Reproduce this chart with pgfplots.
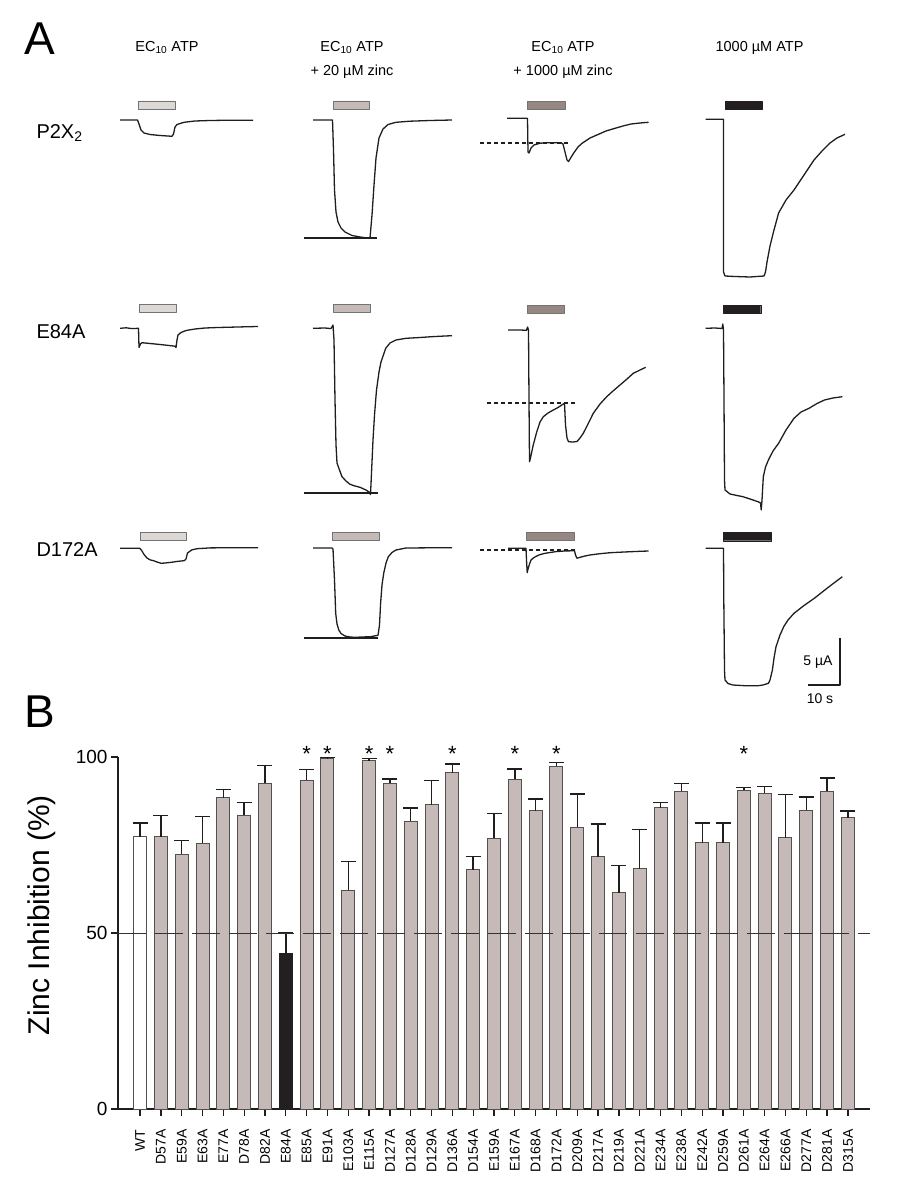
\documentclass[border=0pt]{standalone}
\usepackage{pgfplots}
\pgfplotsset{compat=1.18}
\usepackage{pgfplotstable}
\usepackage{fontspec}
\setmainfont{Liberation Sans}

\definecolor{barfill}{RGB}{197,186,184}
\definecolor{baredge}{RGB}{85,80,80}
\definecolor{stimA}{RGB}{220,216,214}
\definecolor{stimB}{RGB}{197,186,184}
\definecolor{stimC}{RGB}{150,135,131}
\definecolor{stimD}{RGB}{35,31,32}
\definecolor{ink}{RGB}{30,30,30}

\newcommand{\fs}[1]{\fontsize{#1}{#1}\selectfont}
% stimulus bar: colour, x1, y1, x2, y2 (page pixels)
\newcommand{\stim}[5]{\addplot[fill=#1, draw=black!55, line width=0.8pt] coordinates {(#2,#3) (#4,#3) (#4,#5) (#2,#5) (#2,#3)};}

% zinc inhibition (%), mean and upper SEM
\pgfplotstableread{
x y err
0 77.4 3.8
}\wt
\pgfplotstableread{
x y err
7 44.3 5.7
}\ebf
\pgfplotstableread{
x y err
1 77.4 5.9
2 72.4 3.8
3 75.5 7.6
4 88.4 2.4
5 83.5 3.5
6 92.6 4.9
8 93.4 3.0
9 99.5 0.4
10 62.1 8.2
11 98.9 0.6
12 92.5 1.2
13 81.7 3.8
14 86.4 7.0
15 95.5 2.5
16 67.9 3.8
17 76.9 7.1
18 93.7 2.9
19 84.7 3.4
20 97.4 1.1
21 80.1 9.4
22 71.6 9.4
23 61.4 7.7
24 68.2 11.2
25 85.6 1.4
26 90.2 2.2
27 75.7 5.6
28 75.7 5.6
29 90.5 0.8
30 89.7 1.9
31 77.1 12.2
32 84.9 3.7
33 90.3 3.7
34 82.7 2.0
}\mut

\pgfplotsset{errstyle/.style={error bars/.cd, y dir=plus, y explicit,
  error bar style={line width=1.4pt, ink},
  error mark options={rotate=90, line width=1.4pt, mark size=7.5pt, ink}}}

\begin{document}
\begin{tikzpicture}
% ---------- panel A: page in pixel coordinates ----------
\begin{axis}[at={(0pt,0pt)}, anchor=south west, scale only axis,
  width=897pt, height=1190pt, xmin=0, xmax=897, ymin=0, ymax=1190,
  y dir=reverse, hide axis, clip=false, no markers,
  every axis plot/.append style={line join=round}]
\addplot[draw=none] coordinates {(0,0) (897,1190)};

% stimulus bars
\stim{stimA}{138.3}{101}{175}{109}
\stim{stimB}{333.7}{101}{369.4}{109}
\stim{stimC}{527.5}{101.5}{565}{109.5}
\addplot[fill=stimD, draw=stimD] coordinates {(725,101.5)(762,101.5)(762,109.5)(725,109.5)(725,101.5)};
\stim{stimA}{139.8}{304}{176.5}{312}
\stim{stimB}{333.7}{304}{370.4}{312}
\stim{stimC}{527.5}{305}{564.3}{313}
\addplot[fill=stimD, draw=stimD] coordinates {(723.5,305)(760.7,305)(760.7,313)(723.5,313)(723.5,305)};
\stim{stimA}{140.8}{532.3}{186.7}{540.7}
\stim{stimB}{332.7}{532.3}{379.6}{540.7}
\stim{stimC}{526.5}{532.3}{574.5}{540.7}
\addplot[fill=stimD, draw=stimD] coordinates {(723.5,532.3)(771,532.3)(771,540.7)(723.5,540.7)(723.5,532.3)};

% row 1: P2X2
\addplot[ink, line width=1.3pt] coordinates {(120,120)(137.5,120)(139,124)(141,130)(144,133)(150,134.5)(160,135.5)(172,136.3)(173.5,134)(175,127)(177,124.5)(184,122.3)(195,121)(210,120.5)(230,120.2)(253,120.2)};
\addplot[ink, line width=1.3pt] coordinates {(313,120)(332.5,120)(333.5,150)(334.5,190)(336,212)(338,222)(341,228)(345,232)(352,235.5)(360,237)(368,238)(370,238)(372,215)(374,185)(376,158)(379,138)(383,129)(388,124.5)(396,122.3)(410,121.2)(430,120.5)(452,120)};
\addplot[ink, line width=2.2pt] coordinates {(304,238.3)(377,238.3)};
\addplot[ink, line width=1.3pt] coordinates {(507,118.3)(526.5,118.3)(527.5,118.5)(528,152)(529,153)(531,148)(534,145)(540,143.2)(550,142.7)(561,142.7)(563,144)(565,152)(567,160)(568.5,161.5)(570,159)(573.5,153.3)(578,147)(582,143.3)(590,138)(598,134.5)(606,131)(615,128.3)(623,126)(631,124)(640,123)(648.5,122.3)};
\addplot[ink, line width=1.8pt, dash pattern=on 4pt off 3pt] coordinates {(480,142.7)(568,142.7)};
\addplot[ink, line width=1.3pt] coordinates {(705.5,119.3)(723.5,119.3)(723.5,272)(725,276)(735,276.5)(750,277)(764,276)(765.5,272)(767,262)(770,246)(774,230)(778.6,213)(786,200)(794,190)(804,175)(814,160)(822,151)(829.6,143.3)(837,138)(845,134.3)};

% row 2: E84A
\addplot[ink, line width=1.3pt] coordinates {(120,328.3)(126,327.8)(132,328.6)(138.5,328.3)(139,347.5)(140.5,344)(142,342.7)(150,343.5)(160,344.5)(170,345.6)(175,346.2)(176,347.5)(177,340)(178,335)(181,332.5)(186,330.5)(195,329)(205,328)(218,327.5)(230,327.2)(245,326.8)(258,326.5)};
\addplot[ink, line width=1.3pt] coordinates {(313,328.3)(325,328)(331,328.6)(333,325)(334,340)(335,400)(336,445)(337,463)(339.5,470)(342,476.7)(346,481)(350,484.3)(355,486)(360,487.3)(366,490)(369,492)(370.5,494.5)(371.5,473)(373,440)(374.5,415)(376.5,390)(379,372)(381,362)(385.7,348.3)(390,343)(396,340)(406,338.3)(420,337.5)(431.6,336.7)(445,336)(452,335.7)};
\addplot[ink, line width=2.2pt] coordinates {(304,492.7)(378,492.7)};
\addplot[ink, line width=1.3pt] coordinates {(508,330)(520,330)(526.5,330.3)(527.5,327)(528.5,330)(529,400)(529.5,461.7)(530.5,458)(533,446)(536.7,432)(540,422)(543.3,416.7)(548,413)(553.3,410)(558,407.5)(563.3,404)(564.5,403.3)(565.5,425)(567,438)(568.5,441.7)(573,442)(577,441.5)(580,438)(583.3,433.3)(588,424)(593.3,413.3)(600,404)(606.7,396.7)(613,391)(620,385)(627,379)(633.3,373.3)(640,370)(645.7,367.3)};
\addplot[ink, line width=1.8pt, dash pattern=on 4pt off 3pt] coordinates {(487,403.3)(577,403.3)};
\addplot[ink, line width=1.3pt] coordinates {(705.5,328.3)(715,328)(722,328.5)(722.8,324)(723.5,330)(724,400)(724.5,480)(725,490)(730,494)(737,495.5)(743,496.7)(750,499)(758,501.7)(760.5,503)(761.2,510)(762,500)(763.3,476.7)(765.5,467)(768.4,460)(773,451)(778.6,443.3)(786,430)(794,418.3)(801,412)(809,408.3)(817,403.5)(824.5,400)(833,398)(842.3,396.7)};

% row 3: D172A
\addplot[ink, line width=1.3pt] coordinates {(120,548.3)(139.8,548.3)(142,551)(144,554.5)(147,558)(150,559.8)(153.6,560.7)(157,562)(161.2,563.3)(165,563)(171.4,562.3)(178,561.3)(184.2,560.7)(186,559)(187.5,553)(189.3,551.7)(192,549.8)(197,548.7)(210,547.9)(230,547.7)(258,547.7)};
\addplot[ink, line width=1.3pt] coordinates {(313,548)(332,548)(333,549)(334.5,580)(335.7,613.3)(337,624)(338.8,630)(341,633.5)(345,636)(350,637)(355,637.3)(362,637)(370.4,636.7)(378,635.3)(379.5,625)(380.6,603.3)(382,585)(383.7,573.3)(386,563)(388.3,556.7)(392,552.5)(396,550)(406,548)(430,547.8)(452,547.7)};
\addplot[ink, line width=2.2pt] coordinates {(304,637.7)(378,637.7)};
\addplot[ink, line width=1.3pt] coordinates {(508,548.3)(526,548.3)(526.5,560)(527.2,572.7)(528,569)(529.5,564)(531,560)(534,557.5)(538.8,555)(544,553.5)(549,552.7)(556,551.6)(564.3,551)(574.5,550.7)(575.5,555)(577,558.3)(580,557.3)(585,556)(589.8,555)(600,553.7)(610.2,552.7)(620,552.2)(630.6,551.7)(640,551.3)(648.5,551)};
\addplot[ink, line width=1.8pt, dash pattern=on 4pt off 3pt] coordinates {(480,550)(574.5,550)};
\addplot[ink, line width=1.3pt] coordinates {(705.5,548.3)(723.5,548.3)(723.8,600)(724.5,670)(725,680)(728,683.5)(732.7,685)(745,685.7)(758.2,685.7)(763,685)(768.4,683.3)(770,680)(772.4,670)(774,658)(776,646.7)(780,635)(783.7,626.7)(788,620)(794,613.3)(804,605.5)(814.3,598.3)(828,587.5)(842.3,576.7)};

% scale bar
\addplot[ink, line width=1.3pt] coordinates {(808,685)(840,685)(840,638)};
\node[anchor=east, font=\fs{14}] at (axis cs:836,662) {5 µA};
\node[anchor=center, font=\fs{14}] at (axis cs:820,699) {10 s};

% headers and row labels
\node[anchor=base, font=\fs{14.5}] at (axis cs:167,51.7) {EC\textsubscript{10} ATP};
\node[anchor=base, font=\fs{14.5}] at (axis cs:352,51.7) {EC\textsubscript{10} ATP};
\node[anchor=base, font=\fs{14.5}] at (axis cs:352,75.5) {+ 20 µM zinc};
\node[anchor=base, font=\fs{14.5}] at (axis cs:563,51.7) {EC\textsubscript{10} ATP};
\node[anchor=base, font=\fs{14.5}] at (axis cs:563,75.5) {+ 1000 µM zinc};
\node[anchor=base, font=\fs{14.5}] at (axis cs:759.5,51.7) {1000 µM ATP};
\node[anchor=base west, font=\fs{20}] at (axis cs:33,138.5) {P2X\textsubscript{2}};
\node[anchor=base west, font=\fs{20}] at (axis cs:33,338) {E84A};
\node[anchor=base west, font=\fs{20}] at (axis cs:33,556) {D172A};
\node[anchor=base west, font=\fs{46}, inner sep=0pt] at (axis cs:24,55) {A};
\node[anchor=base west, font=\fs{46}, inner sep=0pt] at (axis cs:24,727) {B};
\node[rotate=90, font=\fs{30}] at (axis cs:42,915) {Zinc Inhibition (\%)};
\end{axis}

% ---------- panel B: bar chart ----------
\begin{axis}[at={(118pt,81pt)}, anchor=south west, scale only axis,
  width=752pt, height=352pt, xmin=-1.06, xmax=35.06, ymin=0, ymax=100,
  axis lines*=left, axis line style={line width=1.3pt, ink, -},
  tick style={line width=1.3pt, ink}, tick align=outside, major tick length=7pt,
  xtick={0,...,34},
  xticklabels={WT,D57A,E59A,E63A,E77A,D78A,D82A,E84A,E85A,E91A,E103A,E115A,D127A,D128A,D129A,D136A,D154A,E159A,E167A,D168A,D172A,D209A,D217A,D219A,D221A,E234A,E238A,E242A,D259A,D261A,E264A,E266A,D277A,D281A,D315A},
  xticklabel style={rotate=90, anchor=east, font=\fs{14}, xshift=-1pt},
  xticklabel shift=9pt,
  ytick={0,50,100}, yticklabel style={font=\fs{19}},
  /pgf/number format/assume math mode=true, clip=false]
\addplot[ybar, bar width=13pt, bar shift=0pt, fill=white, draw=baredge, line width=1pt, errstyle]
  table[x=x, y=y, y error=err] {\wt};
\addplot[ybar, bar width=13pt, bar shift=0pt, fill=barfill, draw=baredge, line width=1pt, errstyle]
  table[x=x, y=y, y error=err] {\mut};
\addplot[ybar, bar width=13pt, bar shift=0pt, fill=stimD, draw=stimD, line width=1pt, errstyle]
  table[x=x, y=y, y error=err] {\ebf};
% 50 % reference line
\addplot[black!80, line width=0.8pt, dash pattern=on 28pt off 9pt, no markers] coordinates {(-1.06,50) (35.06,50)};
% significance
\addplot[draw=none, no markers, nodes near coords, point meta=explicit symbolic,
  every node near coord/.style={anchor=base, font=\fs{22}, inner sep=0pt}]
  coordinates {(8,98.7)[*] (9,98.7)[*] (11,98.7)[*] (12,98.7)[*] (15,98.7)[*] (18,98.7)[*] (20,98.7)[*] (29,98.7)[*]};
\end{axis}
\end{tikzpicture}
\end{document}
